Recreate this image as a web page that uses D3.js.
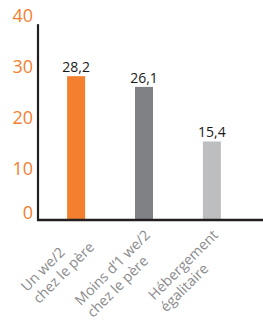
<!DOCTYPE html>
<html><head><meta charset="utf-8">
<script src="https://cdn.jsdelivr.net/npm/d3@7"></script>
<style>html,body{margin:0;padding:0;background:#fff;}svg{display:block;}</style>
</head><body>
<svg id="c" width="263" height="322"></svg>
<script>
const categories = [["Un we/2", "chez le père"], ["Moins d’1 we/2", "chez le père"], ["Hébergement", "égalitaire"]];
const values = [28.2, 26.1, 15.4];
const labels = ["28,2", "26,1", "15,4"];
const colors = ["#f47f2f", "#808184", "#bdbec0"];
const yTicks = [0, 10, 20, 30, 40];

const svg = d3.select("#c");
const keys = categories.map(d => d.join(" "));
const x = d3.scaleBand().domain(keys).range([42, 246]).paddingInner(0.735).paddingOuter(0.37);
const y = d3.scaleLinear().domain([0, 40]).range([220, 16]);

// bars
svg.selectAll("rect.bar").data(values).join("rect")
  .attr("class", "bar")
  .attr("x", (d, i) => x(keys[i]))
  .attr("width", x.bandwidth())
  .attr("y", d => y(d))
  .attr("height", d => y(0) - y(d))
  .attr("fill", (d, i) => colors[i]);

// value labels
svg.selectAll("text.val").data(values).join("text")
  .attr("class", "val")
  .attr("x", (d, i) => x(keys[i]) + x.bandwidth() / 2)
  .attr("y", d => y(d) - 4)
  .attr("text-anchor", "middle")
  .attr("font-family", "Open Sans")
  .attr("font-size", 14)
  .attr("fill", "#1a1a1a")
  .text((d, i) => labels[i]);

// y tick labels
svg.selectAll("text.tick").data(yTicks).join("text")
  .attr("class", "tick")
  .attr("x", 33)
  .attr("y", d => Math.min(y(d), y(0) - 7))
  .attr("dy", "0.35em")
  .attr("text-anchor", "end")
  .attr("font-family", "Open Sans")
  .attr("font-size", 18)
  .attr("fill", "#f47f2f")
  .text(d => d);

// axes lines
svg.append("line").attr("x1", 38).attr("x2", 38).attr("y1", y(38.4)).attr("y2", y(0) + 1)
  .attr("stroke", "#231f20").attr("stroke-width", 2.2);
svg.append("line").attr("x1", 37).attr("x2", 263).attr("y1", y(0)).attr("y2", y(0))
  .attr("stroke", "#231f20").attr("stroke-width", 2.6);

// category labels (rotated blocks, lines left-aligned, block right edge anchored)
const lh = 17;
categories.forEach((lines, i) => {
  const g = svg.append("g")
    .attr("transform", `translate(${x(keys[i]) + x.bandwidth() / 2 + 7},236) rotate(-45)`);
  const ts = lines.map((t, j) => g.append("text")
    .attr("y", j * lh)
    .attr("font-family", "Open Sans")
    .attr("font-size", 14.2)
    .attr("fill", "#8a8a8c")
    .text(t));
  const w = d3.max(ts, t => t.node().getComputedTextLength());
  ts.forEach(t => t.attr("x", -w));
});
</script>
</body></html>
